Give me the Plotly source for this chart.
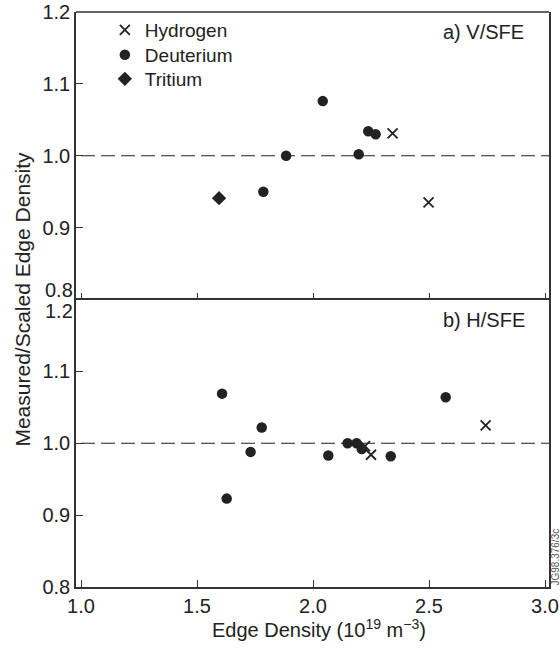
import plotly.graph_objects as go

# ---------------- data ----------------
# panel a) V/SFE
a_hyd_x = [2.343, 2.498]
a_hyd_y = [1.031, 0.935]
a_deu_x = [1.786, 1.884, 2.042, 2.197, 2.238, 2.270]
a_deu_y = [0.950, 1.000, 1.076, 1.002, 1.034, 1.030]
a_tri_x = [1.595]
a_tri_y = [0.941]

# panel b) H/SFE
b_hyd_x = [2.224, 2.250, 2.744]
b_hyd_y = [0.996, 0.984, 1.025]
b_deu_x = [1.608, 1.628, 1.731, 1.779, 2.066, 2.149, 2.188, 2.210, 2.335, 2.572]
b_deu_y = [1.069, 0.923, 0.988, 1.022, 0.983, 1.000, 1.000, 0.992, 0.982, 1.064]

x_ticks = [1.0, 1.5, 2.0, 2.5, 3.0]
x_tick_labels = ["1.0", "1.5", "2.0", "2.5", "3.0"]
y_ticks = [0.8, 0.9, 1.0, 1.1, 1.2]
y_tick_labels = ["0.8", "0.9", "1.0", "1.1", "1.2"]
reference_level = 1.0

series_names = ["Hydrogen", "Deuterium", "Tritium"]
panel_labels = ["a) V/SFE", "b) H/SFE"]
x_title = "Edge Density (10<sup>19</sup> m<sup>\u22123</sup>)"
y_title = "Measured/Scaled Edge Density"
figure_id = "JG98.376/3c"

# ---------------- styling ----------------
FONT = "Liberation Sans, Arial, sans-serif"
INK = "#222222"
LINE = "#333333"
X_RANGE = [0.9784, 3.0172]
Y_RANGE = [0.8, 1.2]
TICK_FONT = dict(family=FONT, size=20, color=INK)
LEGEND_FONT = dict(family=FONT, size=19, color=INK)

hyd_marker = dict(symbol="x-thin", size=10, color=INK, line=dict(width=1.8, color=INK))
deu_marker = dict(symbol="circle", size=10.5, color=INK, line=dict(width=0))
tri_marker = dict(symbol="diamond", size=11, color=INK, line=dict(width=0))

fig = go.Figure()

# panel a (top) -> axes x, y ; panel b (bottom) -> axes x2, y2
fig.add_trace(go.Scatter(x=a_hyd_x, y=a_hyd_y, mode="markers", name=series_names[0],
                         marker=hyd_marker, xaxis="x", yaxis="y", legend="legend"))
fig.add_trace(go.Scatter(x=a_deu_x, y=a_deu_y, mode="markers", name=series_names[1],
                         marker=deu_marker, xaxis="x", yaxis="y", legend="legend2"))
fig.add_trace(go.Scatter(x=a_tri_x, y=a_tri_y, mode="markers", name=series_names[2],
                         marker=tri_marker, xaxis="x", yaxis="y", legend="legend3"))
fig.add_trace(go.Scatter(x=b_hyd_x, y=b_hyd_y, mode="markers", name=series_names[0],
                         marker=hyd_marker, xaxis="x2", yaxis="y2", showlegend=False))
fig.add_trace(go.Scatter(x=b_deu_x, y=b_deu_y, mode="markers", name=series_names[1],
                         marker=deu_marker, xaxis="x2", yaxis="y2", showlegend=False))

# dashed reference lines
for xr, yr in (("x", "y"), ("x2", "y2")):
    fig.add_shape(type="line", xref=xr, yref=yr, x0=x_ticks[0], x1=X_RANGE[1],
                  y0=reference_level, y1=reference_level,
                  line=dict(color=INK, width=1.2, dash="14px,6px"), layer="below")

# top frame line of the upper panel (its bottom edge is shared with the lower panel)
fig.add_shape(type="line", xref="x domain", yref="y domain", x0=0, x1=1, y0=1, y1=1,
              line=dict(color=LINE, width=1.5))

axis_common = dict(showline=True, linecolor=LINE, linewidth=1.5, mirror=True,
                   showgrid=False, zeroline=False, ticks="inside", ticklen=7,
                   tickwidth=1.3, tickcolor=LINE, automargin=False,
                   tickfont=TICK_FONT)

top_y = [(v, t) for v, t in zip(y_ticks, y_tick_labels) if v != Y_RANGE[0]]
bot_y = [(v, t) for v, t in zip(y_ticks, y_tick_labels) if v != Y_RANGE[1]]


def legend_box(ytop):
    return dict(x=0.061, y=ytop, xanchor="left", yanchor="top",
                bgcolor="rgba(0,0,0,0)", borderwidth=0, font=LEGEND_FONT,
                itemwidth=30)


fig.update_layout(
    width=560, height=648,
    margin=dict(l=76, r=11, t=12, b=61, autoexpand=False),
    paper_bgcolor="white", plot_bgcolor="white",
    font=dict(family=FONT, color=INK),
    xaxis=dict(axis_common, domain=[0, 1], range=X_RANGE, anchor="y",
               tickvals=x_ticks, showticklabels=False, showline=False),
    yaxis=dict(axis_common, domain=[0.5, 1], range=Y_RANGE, anchor="x",
               tickvals=[v for v, _ in top_y], ticktext=[t for _, t in top_y],
               ticklabelstandoff=0),
    xaxis2=dict(axis_common, domain=[0, 1], range=X_RANGE, anchor="y2",
                tickvals=x_ticks, ticktext=x_tick_labels, ticklabelstandoff=0),
    yaxis2=dict(axis_common, domain=[0, 0.5], range=Y_RANGE, anchor="x2",
                tickvals=[v for v, _ in bot_y], ticktext=[t for _, t in bot_y],
                ticklabelstandoff=0),
    showlegend=True,
    legend=legend_box(1.0017),
    legend2=legend_box(0.9583),
    legend3=legend_box(0.9165),
)

ann = []
# boundary tick labels drawn separately so they don't collide
ann.append(dict(text=y_tick_labels[0], xref="paper", yref="y", x=0, y=Y_RANGE[0],
                xanchor="right", yanchor="bottom", xshift=-1, yshift=-3, showarrow=False,
                font=TICK_FONT))
ann.append(dict(text=y_tick_labels[-1], xref="paper", yref="y2", x=0, y=Y_RANGE[1],
                xanchor="right", yanchor="top", xshift=-1, yshift=2, showarrow=False,
                font=TICK_FONT))
# panel labels
ann.append(dict(text=panel_labels[0], xref="paper", yref="paper", x=0.9514, y=0.9657,
                xanchor="right", yanchor="middle", showarrow=False,
                font=dict(family=FONT, size=20, color=INK)))
ann.append(dict(text=panel_labels[1], xref="paper", yref="paper", x=0.9535, y=0.4643,
                xanchor="right", yanchor="middle", showarrow=False,
                font=dict(family=FONT, size=20, color=INK)))
# axis titles
ann.append(dict(text=x_title, xref="paper", yref="paper", x=0.514, y=-0.0725,
                xanchor="center", yanchor="middle", showarrow=False,
                font=dict(family=FONT, size=20, color=INK)))
ann.append(dict(text=y_title, xref="paper", yref="paper", x=-0.114, y=0.5,
                xanchor="center", yanchor="middle", textangle=-90, showarrow=False,
                font=dict(family=FONT, size=21, color=INK)))
# figure id
ann.append(dict(text=figure_id, xref="paper", yref="paper", x=1.0127, y=0.0513,
                xanchor="center", yanchor="middle", textangle=-90, showarrow=False,
                font=dict(family=FONT, size=10, color="#555555")))
fig.update_layout(annotations=ann)

fig.write_html("out.html")
